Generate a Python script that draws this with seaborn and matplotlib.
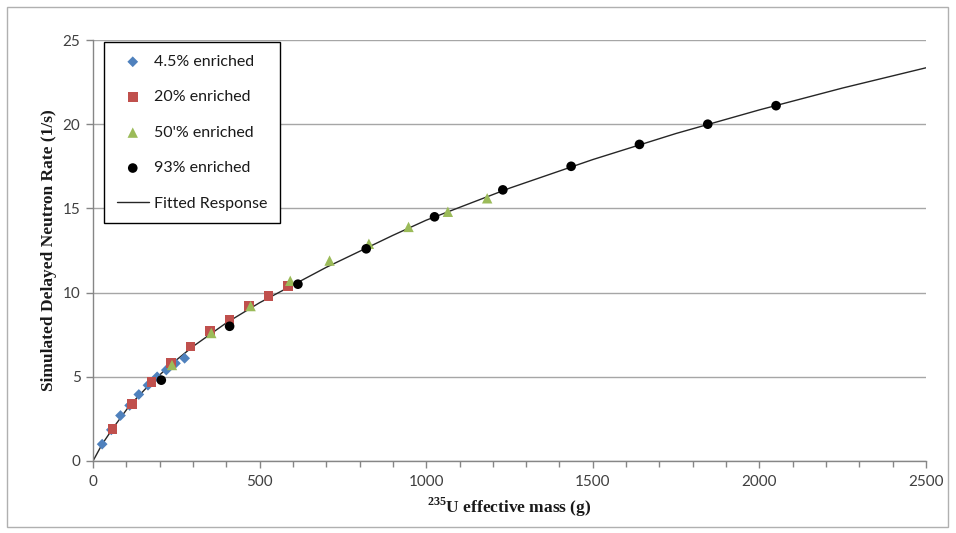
import numpy as np
import pandas as pd
import matplotlib
matplotlib.use("Agg")
import matplotlib.pyplot as plt
from matplotlib.patches import Rectangle
from matplotlib.ticker import MultipleLocator
import seaborn as sns

# --- measured series: 235U effective mass (g) vs simulated delayed neutron rate (1/s)
mass_045 = [27.5, 55, 82.5, 110, 137.5, 165, 192.5, 220, 247.5, 275]
rate_045 = [1.0, 1.85, 2.7, 3.3, 3.95, 4.5, 5.0, 5.4, 5.8, 6.1]

mass_20 = [58.5, 117, 175.5, 234, 292.5, 351, 409.5, 468, 526.5, 585]
rate_20 = [1.9, 3.4, 4.7, 5.8, 6.8, 7.7, 8.4, 9.2, 9.8, 10.4]

mass_50 = [237, 355, 473, 592, 710, 828, 947, 1065, 1183]
rate_50 = [5.7, 7.6, 9.2, 10.7, 11.9, 12.9, 13.9, 14.8, 15.6]

mass_93 = [205, 410, 615, 820, 1025, 1230, 1435, 1640, 1845, 2050]
rate_93 = [4.8, 8.0, 10.5, 12.6, 14.5, 16.1, 17.5, 18.8, 20.0, 21.1]

# fitted response curve
fit_mass = [0, 27.5, 60, 110, 175, 235, 300, 400, 500, 600, 700, 800, 900,
            1000, 1250, 1500, 1750, 2000, 2250, 2500]
fit_rate = [0.0, 1.0, 1.95, 3.3, 4.65, 5.75, 6.8, 8.2, 9.4, 10.45, 11.5, 12.45,
            13.4, 14.3, 16.2, 17.9, 19.45, 20.85, 22.15, 23.35]

series_labels = ["4.5% enriched", "20% enriched", "50'% enriched", "93% enriched"]
fit_label = "Fitted Response"

sns.set_theme(style="white")
plt.rcParams["font.family"] = ["Lato", "DejaVu Sans"]
plt.rcParams["mathtext.fontset"] = "custom"
plt.rcParams["mathtext.rm"] = "Liberation Serif"
plt.rcParams["mathtext.bf"] = "Liberation Serif:bold"

fig = plt.figure(figsize=(9.56, 5.33), dpi=100)
ax = fig.add_axes([93 / 956, 1 - 461 / 533, (926 - 93) / 956, (461 - 40) / 533])

grid_col = "#a6a6a6"
ax.yaxis.grid(True, color=grid_col, linewidth=1.0)
ax.xaxis.grid(False)
ax.set_axisbelow(True)

sns.lineplot(x=fit_mass, y=fit_rate, ax=ax, color="#262626", linewidth=1.0,
             label=fit_label, zorder=2)

styles = [
    (mass_045, rate_045, "#4f81bd", "D", 30),
    (mass_20, rate_20, "#c0504d", "s", 50),
    (mass_50, rate_50, "#9bbb59", "^", 56),
    (mass_93, rate_93, "#000000", "o", 48),
]
for (mx, ry, col, mk, sz), lab in zip(styles, series_labels):
    sns.scatterplot(x=mx, y=ry, ax=ax, color=col, marker=mk, s=sz,
                    edgecolor="none", linewidth=0, label=lab, zorder=3)

ax.set_xlim(0, 2500)
ax.set_ylim(0, 25)
ax.xaxis.set_major_locator(MultipleLocator(500))
ax.xaxis.set_minor_locator(MultipleLocator(100))
ax.yaxis.set_major_locator(MultipleLocator(5))

for side in ("top", "right"):
    ax.spines[side].set_visible(False)
for side in ("left", "bottom"):
    ax.spines[side].set_color("#868686")
    ax.spines[side].set_linewidth(1.0)

ax.tick_params(axis="both", which="major", direction="out", length=5,
               width=1.0, color="#868686", labelsize=11, labelcolor="#404040",
               pad=4)
ax.tick_params(axis="x", which="minor", direction="out", length=4,
               width=1.0, color="#868686", bottom=True)
ax.tick_params(axis="x", which="major", bottom=True, pad=5)
ax.tick_params(axis="y", which="major", left=True)

ax.set_xlabel("$^{\\mathbf{235}}$U effective mass (g)", family="Liberation Serif",
              fontweight="bold", fontsize=12.5, color="#1a1a1a", labelpad=5)
ax.set_ylabel("Simulated Delayed Neutron Rate (1/s)", family="Liberation Serif",
              fontweight="bold", fontsize=12.5, color="#1a1a1a", labelpad=4)

handles, labels = ax.get_legend_handles_labels()
order = [labels.index(l) for l in series_labels + [fit_label]]
leg = ax.legend([handles[i] for i in order], [labels[i] for i in order],
                loc="upper left", bbox_to_anchor=(11 / 833, 1 - 2 / 421),
                frameon=True, fancybox=False, edgecolor="#000000",
                framealpha=1, fontsize=11.5, labelspacing=1.33,
                handlelength=2.0, handletextpad=0.3, borderpad=0.8,
                borderaxespad=0)
leg.get_frame().set_linewidth(1.0)
for t in leg.get_texts():
    t.set_color("#1a1a1a")

# outer chart-area border
fig.patches.append(Rectangle((7 / 956, 6 / 533), 941 / 956, 520 / 533,
                             transform=fig.transFigure, fill=False,
                             edgecolor="#b0b0b0", linewidth=1.0))

fig.savefig("out.png", dpi=100)
